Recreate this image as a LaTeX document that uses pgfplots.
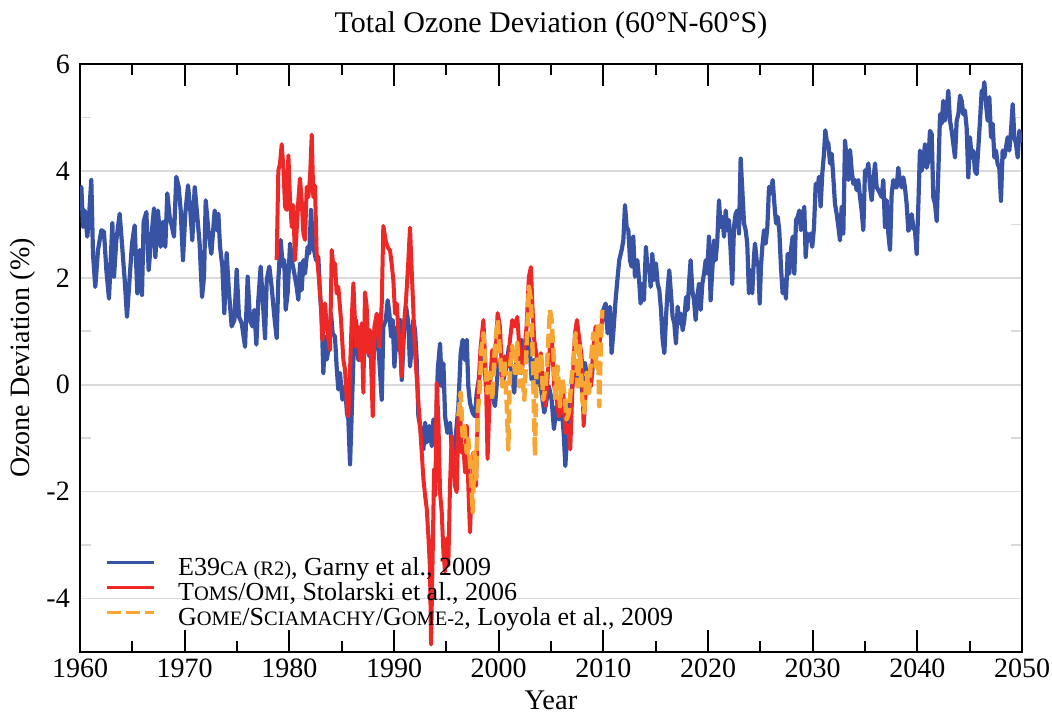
\documentclass[border=0pt]{standalone}
\usepackage{fontspec}
\setmainfont{Liberation Serif}
\usepackage{pgfplots}
\pgfplotsset{compat=1.18}
\definecolor{cblue}{RGB}{57,83,164}
\definecolor{cred}{RGB}{237,40,38}
\definecolor{corange}{RGB}{247,166,51}
\definecolor{cgrid}{RGB}{218,218,218}
\newcommand\fsc[1]{{\fontsize{20.5bp}{21bp}\selectfont #1}}
\begin{document}
\begin{tikzpicture}
\useasboundingbox (-80bp,-63bp) rectangle (972bp,652bp);
\begin{axis}[
  at={(0,0)}, anchor=south west,
  width=942bp, height=588bp, scale only axis,
  xmin=1960, xmax=2050, ymin=-5, ymax=6,
  xtick={1960,1970,...,2050},
  xticklabels={1960,1970,1980,1990,2000,2010,2020,2030,2040,2050},
  minor x tick num=1,
  ytick={-4,-2,0,2,4,6},
  yticklabels={-4,-2,0,2,4,6},
  minor ytick={-5,-3,-1,1,3,5},
  ymajorgrids,
  major grid style={line width=1.6bp, color=cgrid},
  tick align=inside,
  major tick length=22bp, minor tick length=11bp,
  x tick style={line width=1.8bp, color=black},
  y tick style={line width=1.6bp, color=cgrid},
  minor y tick style={line width=1.6bp, color=cgrid},
  axis line style={line width=2.5bp},
  tick label style={font=\fontsize{28bp}{28bp}\selectfont},
  xticklabel style={inner sep=7bp},
  yticklabel style={inner sep=10bp},
  every axis title shift=0pt,
  title={Total Ozone Deviation (60°N-60°S)},
  title style={at={(axis description cs:0.5,1.065)}, anchor=center, font=\fontsize{30bp}{32bp}\selectfont},
  xlabel={Year},
  xlabel style={at={(axis description cs:0.5,-0.0816)}, anchor=center, font=\fontsize{28.5bp}{30bp}\selectfont},
  ylabel={Ozone Deviation (\%)},
  ylabel style={at={(axis description cs:-0.061,0.5)}, anchor=center, font=\fontsize{28bp}{30bp}\selectfont},
  legend style={draw=none, fill=none, inner sep=0pt, at={(axis description cs:0.0265,0.036)}, anchor=south west,
    font=\fontsize{26bp}{26bp}\selectfont, row sep=3bp,
    nodes={inner sep=0pt, text height=17bp, text depth=5bp},
    /tikz/every odd column/.append style={column sep=23bp}},
  legend cell align=left,
  legend image code/.code={\draw[#1, line width=3bp] (0bp,7bp) -- (47bp,7bp);},
  every axis plot/.append style={line join=round},
]
\addplot[color=cblue, line width=4.2bp] table {
1960.00 3.55
1960.13 3.70
1960.29 2.95
1960.45 3.26
1960.70 2.77
1960.86 3.14
1961.08 3.83
1961.24 2.45
1961.46 1.83
1961.72 2.52
1962.04 2.89
1962.29 2.86
1962.52 2.14
1962.77 1.61
1963.09 3.02
1963.25 2.02
1963.47 2.70
1963.79 3.20
1964.01 2.64
1964.27 1.96
1964.49 1.27
1964.75 2.02
1964.97 2.64
1965.22 2.98
1965.48 1.71
1965.70 2.52
1965.92 1.68
1966.08 3.05
1966.34 3.23
1966.56 2.14
1966.82 2.77
1967.07 3.30
1967.20 2.39
1967.45 3.26
1967.71 2.58
1967.93 3.05
1968.15 2.58
1968.34 3.58
1968.57 3.14
1968.79 2.95
1968.98 2.77
1969.20 3.89
1969.43 3.70
1969.62 3.26
1969.84 2.33
1970.06 3.20
1970.32 3.73
1970.54 3.26
1970.73 2.70
1970.96 3.70
1971.21 3.14
1971.43 2.64
1971.66 1.64
1971.85 2.02
1972.01 3.45
1972.29 2.83
1972.55 2.45
1972.87 3.26
1973.06 2.89
1973.22 3.20
1973.38 2.58
1973.60 2.21
1973.79 1.34
1974.01 2.46
1974.24 1.71
1974.49 1.09
1974.75 1.21
1974.97 2.15
1975.19 1.27
1975.45 1.15
1975.77 0.71
1976.02 2.02
1976.24 1.21
1976.47 1.09
1976.66 1.40
1976.85 0.75
1977.04 1.59
1977.26 2.21
1977.42 1.71
1977.68 0.87
1977.84 1.96
1978.09 2.21
1978.31 1.83
1978.57 1.27
1978.79 0.87
1978.95 1.96
1979.17 2.71
1979.37 2.21
1979.52 2.33
1979.65 1.40
1979.84 1.71
1980.07 2.64
1980.29 2.27
1980.48 2.08
1980.70 1.83
1980.86 1.59
1981.02 2.27
1981.18 1.77
1981.34 2.33
1981.50 2.08
1981.75 2.58
1981.91 2.46
1982.07 3.27
1982.20 2.83
1982.36 2.52
1982.55 2.33
1982.77 2.39
1982.93 1.71
1983.09 1.27
1983.25 0.22
1983.41 0.90
1983.57 0.47
1983.79 0.71
1983.98 1.34
1984.14 0.96
1984.36 0.90
1984.52 0.34
1984.68 -0.09
1984.84 0.22
1985.07 -0.28
1985.32 -0.03
1985.51 -0.53
1985.64 -0.65
1985.80 -1.49
1985.96 -0.53
1986.12 0.46
1986.37 1.21
1986.60 0.46
1986.76 0.71
1986.91 1.02
1987.14 0.53
1987.39 1.02
1987.65 0.53
1987.87 0.90
1988.09 0.65
1988.35 1.02
1988.60 0.46
1988.83 -0.28
1988.98 1.08
1989.21 1.21
1989.40 1.58
1989.56 1.33
1989.72 0.90
1989.88 1.21
1990.04 0.34
1990.26 1.08
1990.42 0.65
1990.58 1.21
1990.74 0.09
1990.96 1.02
1991.15 1.46
1991.37 1.15
1991.53 0.34
1991.69 0.71
1991.85 1.21
1992.01 1.02
1992.17 0.46
1992.33 -0.59
1992.49 -0.77
1992.65 -1.02
1992.81 -1.21
1992.97 -0.71
1993.13 -1.08
1993.38 -0.77
1993.61 -1.15
1993.77 -0.65
1994.02 -0.90
1994.18 0.28
1994.40 0.77
1994.56 -0.03
1994.72 0.40
1994.88 -0.59
1995.10 -0.90
1995.35 -0.71
1995.51 -1.15
1995.67 -1.39
1995.93 -0.90
1996.15 -0.40
1996.37 0.59
1996.56 0.84
1996.79 0.46
1996.95 0.84
1997.10 -0.03
1997.26 -0.34
1997.52 -0.53
1997.74 -0.59
1997.90 -0.15
1998.16 0.15
1998.38 0.46
1998.54 0.71
1998.79 -0.03
1999.01 -0.28
1999.33 -0.15
1999.65 -0.40
1999.90 0.22
2000.12 0.47
2000.44 0.09
2000.76 0.34
2000.98 0.72
2001.24 0.22
2001.49 -0.15
2001.72 0.53
2001.97 0.34
2002.19 0.84
2002.45 0.47
2002.67 0.84
2002.89 0.96
2003.15 0.09
2003.40 0.47
2003.63 -0.03
2003.85 0.34
2004.10 -0.15
2004.36 -0.52
2004.58 -0.28
2004.80 -0.03
2005.06 -0.28
2005.28 -0.83
2005.54 -0.40
2005.76 -0.65
2006.01 -0.40
2006.21 -0.90
2006.37 -1.52
2006.59 -0.77
2006.81 -0.28
2007.03 -0.03
2007.29 0.34
2007.54 0.09
2007.76 0.22
2007.99 -0.15
2008.24 0.41
2008.50 0.09
2008.72 -0.03
2008.94 0.22
2009.13 0.84
2009.36 0.59
2009.58 0.84
2009.84 1.09
2010.00 1.40
2010.22 1.52
2010.41 0.96
2010.63 1.46
2010.79 0.59
2010.95 0.96
2011.17 1.58
2011.37 2.02
2011.52 2.33
2011.75 2.52
2011.91 2.70
2012.07 3.36
2012.23 2.95
2012.39 2.89
2012.55 2.33
2012.70 2.21
2012.86 2.77
2013.02 2.02
2013.25 2.33
2013.44 1.89
2013.56 1.52
2013.75 1.89
2013.88 1.58
2014.07 2.58
2014.23 2.14
2014.39 2.21
2014.52 1.83
2014.68 2.45
2014.84 1.96
2015.03 2.27
2015.19 1.89
2015.35 1.77
2015.51 1.40
2015.67 0.83
2015.83 0.59
2015.99 1.27
2016.14 1.77
2016.30 2.14
2016.46 1.71
2016.62 1.27
2016.78 1.15
2016.94 0.77
2017.10 1.46
2017.26 1.15
2017.42 1.33
2017.58 1.02
2017.74 1.21
2017.90 1.64
2018.05 1.40
2018.21 1.96
2018.34 2.33
2018.50 1.77
2018.66 1.58
2018.82 1.21
2018.98 1.64
2019.14 1.89
2019.30 1.40
2019.46 1.89
2019.62 2.08
2019.78 2.33
2019.93 2.08
2020.09 2.77
2020.25 1.58
2020.41 2.14
2020.57 2.70
2020.73 2.33
2020.89 2.70
2021.05 3.45
2021.21 2.95
2021.37 3.14
2021.53 2.77
2021.69 3.26
2021.84 2.89
2022.00 3.08
2022.16 2.52
2022.32 1.89
2022.48 2.95
2022.64 3.20
2022.80 3.26
2022.96 2.83
2023.12 4.23
2023.28 3.64
2023.44 3.02
2023.60 2.89
2023.75 2.64
2023.91 1.71
2024.07 2.14
2024.23 1.71
2024.39 2.39
2024.49 2.64
2024.65 2.33
2024.81 2.21
2024.94 1.52
2025.06 2.21
2025.19 2.58
2025.35 2.89
2025.51 2.64
2025.67 2.95
2025.83 3.70
2025.99 3.58
2026.18 3.83
2026.34 3.39
2026.50 3.02
2026.66 3.14
2026.81 2.89
2026.97 2.21
2027.13 1.71
2027.29 1.96
2027.45 1.61
2027.61 2.45
2027.77 2.08
2027.93 2.52
2028.09 2.77
2028.25 2.08
2028.41 3.08
2028.57 3.14
2028.73 3.26
2028.88 2.89
2029.04 3.14
2029.20 3.33
2029.33 2.39
2029.49 2.83
2029.65 2.70
2029.81 2.83
2029.96 2.58
2030.13 2.95
2030.29 3.76
2030.45 3.64
2030.60 3.89
2030.76 3.33
2030.92 3.95
2031.08 4.32
2031.21 4.76
2031.34 4.57
2031.50 4.51
2031.66 4.14
2031.82 4.32
2031.97 3.89
2032.13 3.39
2032.29 3.20
2032.46 2.95
2032.61 2.70
2032.77 3.33
2032.93 2.83
2033.09 4.57
2033.25 4.20
2033.41 3.83
2033.57 4.39
2033.73 4.01
2033.88 3.76
2034.04 3.83
2034.20 3.64
2034.36 3.83
2034.52 3.51
2034.68 3.26
2034.84 2.89
2035.00 4.01
2035.16 3.95
2035.32 4.14
2035.48 3.70
2035.64 3.45
2035.80 3.83
2035.96 4.14
2036.11 3.70
2036.27 3.64
2036.43 3.58
2036.59 3.51
2036.75 3.83
2036.91 2.95
2037.07 3.45
2037.23 2.83
2037.39 2.52
2037.55 3.58
2037.71 3.83
2037.87 3.70
2038.02 3.69
2038.18 4.06
2038.34 3.81
2038.50 3.69
2038.66 3.88
2038.82 3.69
2038.98 3.38
2039.14 2.88
2039.30 2.94
2039.46 3.19
2039.62 2.94
2039.78 2.88
2039.94 2.44
2040.10 3.38
2040.25 4.38
2040.41 4.00
2040.57 4.19
2040.73 4.50
2040.89 4.06
2041.05 4.19
2041.21 4.75
2041.37 4.69
2041.53 3.50
2041.69 3.38
2041.85 3.06
2042.01 4.00
2042.17 5.06
2042.32 4.88
2042.48 5.31
2042.64 4.94
2042.80 5.13
2042.96 5.50
2043.12 4.94
2043.28 4.75
2043.44 4.50
2043.60 4.25
2043.76 4.94
2043.92 5.06
2044.08 5.41
2044.24 5.31
2044.39 5.06
2044.55 5.13
2044.71 4.81
2044.87 3.88
2045.03 4.63
2045.19 4.25
2045.35 4.38
2045.51 4.00
2045.67 3.94
2045.83 4.44
2045.99 4.94
2046.15 5.50
2046.30 5.44
2046.40 5.66
2046.56 5.25
2046.72 4.94
2046.88 5.38
2047.04 4.63
2047.20 4.88
2047.36 4.25
2047.52 4.38
2047.67 4.13
2047.83 4.06
2047.99 3.44
2048.15 4.38
2048.31 4.25
2048.47 4.44
2048.63 4.63
2048.79 4.38
2048.95 4.75
2049.11 5.25
2049.27 4.63
2049.43 4.50
2049.59 4.25
2049.75 4.75
2049.91 4.56
2050.00 4.63
};
\addlegendentry{E39\fsc{CA (R2)}, Garny et al., 2009}
\addplot[color=cred, line width=4bp] table {
1978.79 2.33
1978.95 4.01
1979.11 4.14
1979.27 4.50
1979.43 4.07
1979.59 3.33
1979.75 3.27
1979.91 4.29
1980.07 3.45
1980.23 2.95
1980.38 3.36
1980.54 2.33
1980.70 2.89
1980.86 3.45
1981.02 3.86
1981.18 3.45
1981.34 2.83
1981.50 2.71
1981.66 3.70
1981.82 3.51
1981.98 3.89
1982.14 4.68
1982.29 3.51
1982.45 3.73
1982.61 2.46
1982.84 1.96
1983.03 1.46
1983.15 0.84
1983.41 1.52
1983.57 1.09
1983.73 0.84
1983.89 0.65
1984.05 2.52
1984.21 2.21
1984.36 2.27
1984.52 1.71
1984.68 1.83
1984.94 1.21
1985.16 0.47
1985.32 0.28
1985.48 -0.28
1985.64 -0.59
1985.80 0.28
1985.96 1.21
1986.12 1.90
1986.37 0.71
1986.60 1.08
1986.76 0.46
1986.91 1.15
1987.07 -0.15
1987.23 1.73
1987.39 1.46
1987.55 0.59
1987.71 1.02
1987.97 -0.59
1988.12 1.08
1988.35 1.33
1988.60 0.71
1988.83 1.52
1988.98 2.97
1989.21 2.69
1989.40 2.57
1989.62 2.51
1989.78 2.26
1989.94 1.95
1990.10 1.33
1990.26 1.52
1990.42 1.02
1990.58 0.71
1990.74 0.15
1990.90 1.02
1991.15 1.58
1991.37 2.32
1991.53 2.94
1991.69 2.14
1991.85 1.39
1992.01 0.59
1992.17 0.15
1992.33 -0.34
1992.49 -0.77
1992.65 -1.27
1992.81 -1.76
1992.97 -2.07
1993.13 -2.32
1993.28 -2.82
1993.44 -3.44
1993.54 -4.86
1993.70 -3.13
1993.83 -1.58
1993.95 -2.07
1994.08 0.03
1994.24 -0.65
1994.40 -2.01
1994.56 -2.38
1994.72 -3.13
1994.88 -3.50
1995.04 -2.88
1995.19 -3.38
1995.35 -1.89
1995.51 -0.96
1995.67 -1.39
1995.83 -1.89
1995.99 -2.01
1996.15 -0.65
1996.31 -0.40
1996.47 -1.27
1996.63 -1.15
1996.79 -1.64
1996.95 -0.77
1997.10 -1.89
1997.26 -2.76
1997.42 -1.89
1997.58 -1.27
1997.84 -1.89
1998.06 -0.03
1998.28 0.71
1998.54 1.21
1998.79 0.09
1998.94 -1.39
1999.17 -0.02
1999.39 0.65
1999.65 0.34
1999.90 1.34
2000.12 1.09
2000.35 0.10
2000.60 0.53
2000.86 0.34
2001.08 0.84
2001.30 1.21
2001.56 1.09
2001.78 1.27
2001.97 0.72
2002.19 0.22
2002.45 0.65
2002.67 1.09
2002.89 2.02
2003.08 2.20
2003.24 1.40
2003.40 0.84
2003.63 0.53
2003.79 0.22
2004.04 0.59
2004.26 -0.03
2004.49 -0.40
2004.68 0.16
2004.90 0.72
2005.06 0.96
2005.31 -0.03
2005.54 -0.28
2005.76 -0.59
2005.95 -0.52
2006.17 -0.15
2006.40 -0.90
2006.65 -0.77
2006.84 -1.21
2007.03 -0.15
2007.29 0.96
2007.48 1.21
2007.67 0.90
2007.93 0.53
2008.12 -0.77
2008.34 -0.03
2008.56 0.22
2008.82 -0.03
2009.04 0.65
2009.26 1.09
2009.52 0.65
2009.77 0.96
2009.93 1.34
};
\addlegendentry{T\fsc{OMS}/O\fsc{MI}, Stolarski et al., 2006}
\addplot[color=corange, line width=4.5bp, dash pattern=on 14bp off 5bp] table {
1996.15 -0.59
1996.37 -0.15
1996.56 -0.96
1996.72 -0.77
1996.95 -1.27
1997.10 -1.02
1997.33 -1.64
1997.52 -2.38
1997.68 -1.27
1997.84 -1.76
1998.00 -0.53
1998.16 -0.15
1998.38 0.71
1998.54 0.96
1998.70 0.46
1998.92 -0.15
1999.17 0.22
1999.39 -0.28
1999.65 0.72
1999.90 1.21
2000.12 0.59
2000.35 -0.03
2000.54 0.47
2000.76 -0.28
2000.92 -1.21
2001.08 0.34
2001.30 0.72
2001.56 0.22
2001.78 0.78
2001.97 -0.03
2002.19 0.34
2002.45 -0.28
2002.67 0.72
2002.89 1.83
2003.08 1.58
2003.24 0.65
2003.47 -1.33
2003.63 0.47
2003.85 0.22
2004.04 0.59
2004.26 -0.28
2004.49 -0.03
2004.68 0.59
2004.90 1.40
2005.06 1.21
2005.22 0.65
2005.44 -0.28
2005.63 0.34
2005.85 -0.40
2006.08 0.10
2006.27 -0.15
2006.49 -0.65
2006.71 -0.52
2006.91 -0.03
2007.13 0.47
2007.35 0.96
2007.54 -0.03
2007.76 0.72
2007.99 -0.28
2008.18 -0.52
2008.40 0.22
2008.63 -0.15
2008.82 0.47
2009.04 0.96
2009.26 0.34
2009.45 1.09
2009.61 -0.40
2009.77 0.84
2009.90 1.40
};
\addlegendentry{G\fsc{OME}/S\fsc{CIAMACHY}/G\fsc{OME-2}, Loyola et al., 2009}
\end{axis}
\end{tikzpicture}
\end{document}
